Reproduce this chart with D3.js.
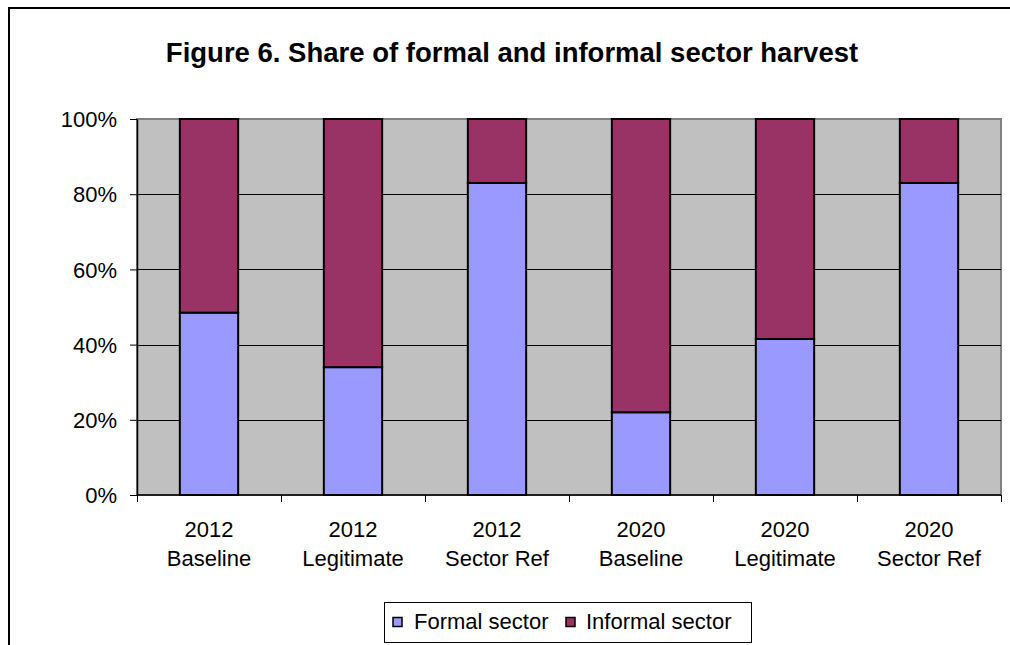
<!DOCTYPE html>
<html>
<head>
<meta charset="utf-8">
<script src="https://cdn.jsdelivr.net/npm/d3@7"></script>
<style>
  html, body { margin: 0; padding: 0; background: #ffffff; overflow: hidden; }
  svg { display: block; }
  text { font-family: "Liberation Sans", Arial, sans-serif; fill: #000; }
</style>
</head>
<body>
<svg id="chart" width="1010" height="645"></svg>
<script>
// Scenario categories (year + scenario name, drawn on two lines)
const years = ["2012", "2012", "2012", "2020", "2020", "2020"];
const scenarios = ["Baseline", "Legitimate", "Sector Ref", "Baseline", "Legitimate", "Sector Ref"];
const categories = years.map((y, i) => y + " " + scenarios[i]);

// Share of harvest by sector (percent)
const formalSector = [48.5, 34, 83, 22, 41.5, 83];
const informalSector = [51.5, 66, 17, 78, 58.5, 17];

const seriesNames = ["Formal sector", "Informal sector"];
const seriesColors = ["#9999FF", "#993366"];
const yTicks = [0, 20, 40, 60, 80, 100];

const rows = categories.map((c, i) => ({
  category: c,
  "Formal sector": formalSector[i],
  "Informal sector": informalSector[i]
}));

const svg = d3.select("#chart");
const labelSize = "22px";

// Outer chart frame
svg.append("rect")
  .attr("x", 9).attr("y", 8)
  .attr("width", 1040).attr("height", 680)
  .attr("fill", "none").attr("stroke", "#000").attr("stroke-width", 2);

// Title
svg.append("text")
  .attr("x", 512).attr("y", 62)
  .attr("text-anchor", "middle")
  .style("font-size", "27.5px").style("font-weight", "bold")
  .text("Figure 6. Share of formal and informal sector harvest");

const plot = { left: 137, right: 1001, top: 119, bottom: 495 };

const x = d3.scaleBand().domain(categories).range([plot.left, plot.right]).padding(0);
const y = d3.scaleLinear().domain([0, 100]).range([plot.bottom, plot.top]);
const barWidth = x.bandwidth() * 0.405;

// Plot area background
svg.append("rect")
  .attr("x", plot.left).attr("y", plot.top)
  .attr("width", plot.right - plot.left).attr("height", plot.bottom - plot.top)
  .attr("fill", "#C0C0C0").attr("stroke", "#808080").attr("stroke-width", 2);

// Horizontal gridlines
svg.append("g")
  .selectAll("line")
  .data(yTicks.filter(t => t > 0 && t < 100))
  .join("line")
  .attr("x1", plot.left).attr("x2", plot.right)
  .attr("y1", d => Math.round(y(d)) + 0.5).attr("y2", d => Math.round(y(d)) + 0.5)
  .attr("stroke", "#000").attr("stroke-width", 1);

// Stacked bars
const stacked = d3.stack().keys(seriesNames)(rows);
svg.append("g")
  .selectAll("g")
  .data(stacked)
  .join("g")
  .attr("fill", (d, i) => seriesColors[i])
  .selectAll("rect")
  .data(d => d)
  .join("rect")
  .attr("x", d => x(d.data.category) + (x.bandwidth() - barWidth) / 2)
  .attr("y", d => y(d[1]))
  .attr("width", barWidth)
  .attr("height", d => y(d[0]) - y(d[1]))
  .attr("stroke", "#000")
  .attr("stroke-width", 2);

// Y axis
const yAxis = d3.axisLeft(y).tickValues(yTicks).tickFormat(d => d + "%").tickSize(7).tickSizeOuter(0);
const gy = svg.append("g").attr("transform", `translate(${plot.left},0)`).call(yAxis);
gy.select(".domain").attr("stroke", "#000").attr("stroke-width", 1.5);
gy.selectAll(".tick line").attr("stroke", "#000");
gy.selectAll(".tick text")
  .attr("x", -20)
  .attr("dy", "0.35em")
  .style("font-size", labelSize)
  .style("font-family", "'Liberation Sans', Arial, sans-serif")
  .attr("fill", "#000");

// X axis: ticks sit at category boundaries
const boundaries = d3.range(categories.length + 1).map(i => plot.left + i * x.step());
const gx = svg.append("g");
gx.append("line")
  .attr("x1", plot.left).attr("x2", plot.right)
  .attr("y1", plot.bottom).attr("y2", plot.bottom)
  .attr("stroke", "#000").attr("stroke-width", 1.5);
gx.selectAll("line.tick")
  .data(boundaries)
  .join("line")
  .attr("class", "tick")
  .attr("x1", d => Math.round(d) + 0.5).attr("x2", d => Math.round(d) + 0.5)
  .attr("y1", plot.bottom).attr("y2", plot.bottom + 7)
  .attr("stroke", "#000");

const labels = gx.selectAll("text.cat")
  .data(categories)
  .join("text")
  .attr("class", "cat")
  .attr("text-anchor", "middle")
  .style("font-size", labelSize);
labels.append("tspan")
  .attr("x", d => x(d) + x.bandwidth() / 2)
  .attr("y", 537)
  .text((d, i) => years[i]);
labels.append("tspan")
  .attr("x", d => x(d) + x.bandwidth() / 2)
  .attr("y", 566)
  .text((d, i) => scenarios[i]);

// Legend
const legend = svg.append("g");
legend.append("rect")
  .attr("x", 384.5).attr("y", 602.5)
  .attr("width", 367).attr("height", 40)
  .attr("fill", "#fff").attr("stroke", "#000").attr("stroke-width", 1);
const swatchX = [393, 566];
const textX = [414, 586];
const items = legend.selectAll("g.item")
  .data(seriesNames)
  .join("g")
  .attr("class", "item");
items.append("rect")
  .attr("x", (d, i) => swatchX[i]).attr("y", 617.5)
  .attr("width", 9).attr("height", 9)
  .attr("fill", (d, i) => seriesColors[i])
  .attr("stroke", "#000").attr("stroke-width", 1.5);
items.append("text")
  .attr("x", (d, i) => textX[i]).attr("y", 628.5)
  .style("font-size", labelSize)
  .text(d => d);
</script>
</body>
</html>
